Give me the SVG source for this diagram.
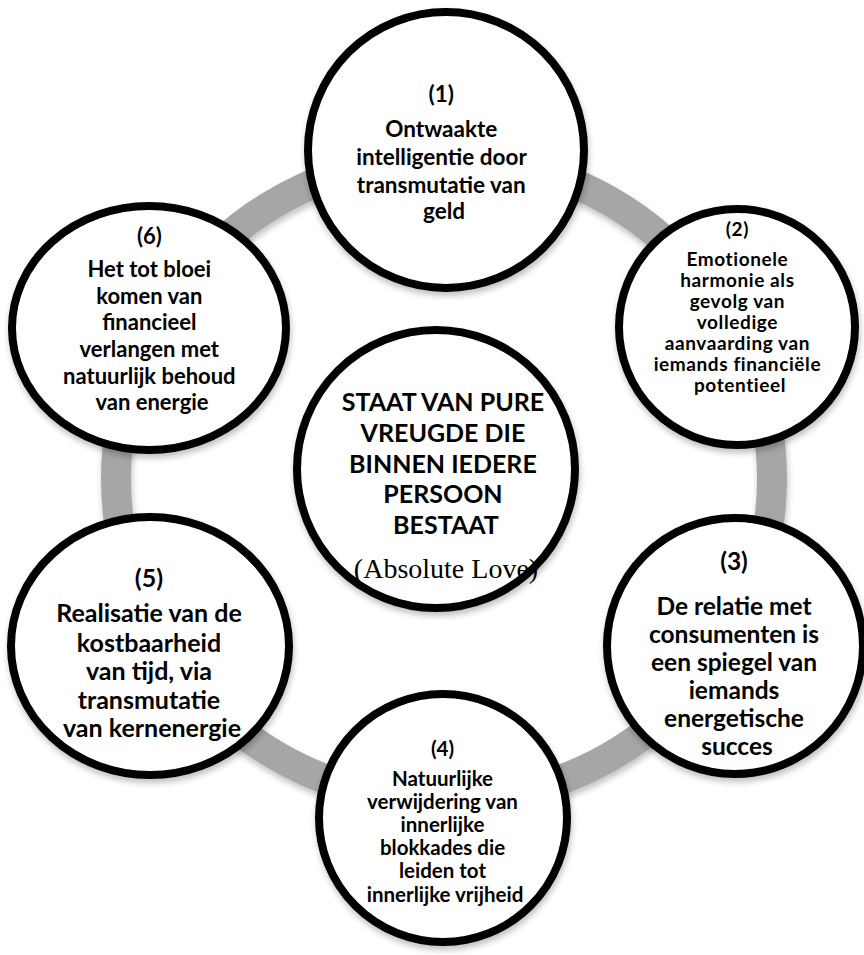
<svg xmlns="http://www.w3.org/2000/svg" width="864" height="955" viewBox="0 0 864 955">
  <style>
    .node circle, .node ellipse { fill: #ffffff; stroke: #000000; stroke-width: 8; filter: url(#soft); }
    .lbl { font-family: Lato, "Open Sans", "Liberation Sans", sans-serif; font-weight: 700; fill: #000000; text-anchor: middle; }
    .love { font-family: "Liberation Serif", "DejaVu Serif", serif; fill: #000000; text-anchor: middle; }
    .ring { fill: none; stroke: #a6a6a6; stroke-width: 30; filter: url(#soft); }
  </style>
  <defs>
    <filter id="soft" x="-10%" y="-10%" width="120%" height="125%">
      <feGaussianBlur in="SourceAlpha" stdDeviation="3"/>
      <feOffset dx="1" dy="4" result="b"/>
      <feComponentTransfer><feFuncA type="linear" slope="0.25"/></feComponentTransfer>
      <feMerge><feMergeNode/><feMergeNode in="SourceGraphic"/></feMerge>
    </filter>
  </defs>
  <rect width="864" height="955" fill="#ffffff"/>

  <!-- cycle ring behind the nodes -->
  <g id="connectors">
    <ellipse class="ring" cx="444" cy="479" rx="328" ry="322"/>
  </g>

  <g id="center" class="node">
    <circle cx="436" cy="469" r="139"/>
    <text class="lbl" font-size="25">
      <tspan x="446" y="411">STAAT VAN PURE</tspan>
      <tspan x="446" y="442">VREUGDE DIE</tspan>
      <tspan x="446" y="473">BINNEN IEDERE</tspan>
      <tspan x="446" y="503">PERSOON</tspan>
      <tspan x="446" y="534">BESTAAT</tspan>
    </text>
    <text class="love" font-size="28" x="446" y="578">(Absolute Love)</text>
  </g>

  <g id="node1" class="node">
    <circle cx="446" cy="150" r="138"/>
    <text class="lbl" font-size="22.5">
      <tspan x="444" y="102">(1)</tspan>
      <tspan x="444" y="137">Ontwaakte</tspan>
      <tspan x="444" y="165">intelligentie door</tspan>
      <tspan x="444" y="193">transmutatie van</tspan>
      <tspan x="444" y="219">geld</tspan>
    </text>
  </g>

  <g id="node2" class="node">
    <circle cx="737" cy="327" r="118"/>
    <text class="lbl" font-size="19" letter-spacing="0.6">
      <tspan x="740" y="236">(2)</tspan>
      <tspan x="740" y="266">Emotionele</tspan>
      <tspan x="740" y="287">harmonie als</tspan>
      <tspan x="740" y="308">gevolg van</tspan>
      <tspan x="740" y="329">volledige</tspan>
      <tspan x="740" y="350">aanvaarding van</tspan>
      <tspan x="740" y="371">iemands financiële</tspan>
      <tspan x="740" y="392">potentieel</tspan>
    </text>
  </g>

  <g id="node3" class="node">
    <circle cx="735" cy="646" r="128"/>
    <text class="lbl" font-size="24.5">
      <tspan x="737" y="570">(3)</tspan>
      <tspan x="737" y="615">De relatie met</tspan>
      <tspan x="737" y="643">consumenten is</tspan>
      <tspan x="737" y="671">een spiegel van</tspan>
      <tspan x="737" y="699">iemands</tspan>
      <tspan x="737" y="727">energetische</tspan>
      <tspan x="737" y="755">succes</tspan>
    </text>
  </g>

  <g id="node4" class="node">
    <circle cx="443" cy="818" r="124"/>
    <text class="lbl" font-size="20.5">
      <tspan x="445" y="756">(4)</tspan>
      <tspan x="445" y="786">Natuurlijke</tspan>
      <tspan x="445" y="809">verwijdering van</tspan>
      <tspan x="445" y="832">innerlijke</tspan>
      <tspan x="445" y="855">blokkades die</tspan>
      <tspan x="445" y="878">leiden tot</tspan>
      <tspan x="445" y="902">innerlijke vrijheid</tspan>
    </text>
  </g>

  <g id="node5" class="node">
    <ellipse cx="150" cy="646" rx="139" ry="129"/>
    <text class="lbl" font-size="25">
      <tspan x="152" y="587">(5)</tspan>
      <tspan x="152" y="622">Realisatie van de</tspan>
      <tspan x="152" y="652">kostbaarheid</tspan>
      <tspan x="152" y="680">van tijd, via</tspan>
      <tspan x="152" y="709">transmutatie</tspan>
      <tspan x="152" y="737">van kernenergie</tspan>
    </text>
  </g>

  <g id="node6" class="node">
    <ellipse cx="149" cy="328" rx="137" ry="122"/>
    <text class="lbl" font-size="22">
      <tspan x="152" y="244">(6)</tspan>
      <tspan x="152" y="277">Het tot bloei</tspan>
      <tspan x="152" y="304">komen van</tspan>
      <tspan x="152" y="330">financieel</tspan>
      <tspan x="152" y="357">verlangen met</tspan>
      <tspan x="152" y="384">natuurlijk behoud</tspan>
      <tspan x="152" y="410">van energie</tspan>
    </text>
  </g>
</svg>
